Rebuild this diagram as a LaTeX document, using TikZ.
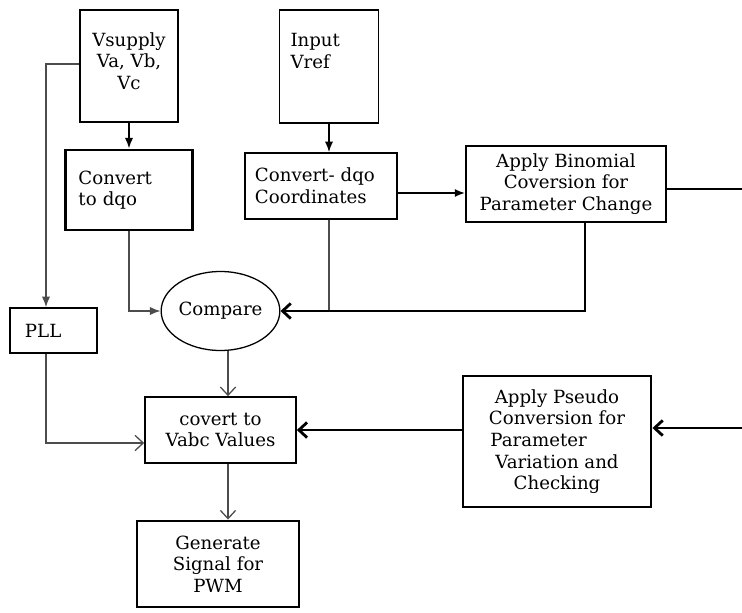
\documentclass[tikz,border=0pt]{standalone}
\usepackage{fontspec}
\setmainfont{DejaVu Serif}
\usetikzlibrary{arrows.meta,shapes.geometric}

\begin{document}
\begin{tikzpicture}[x=0.03cm, y=0.03cm]
      \tikzstyle{every node}+=[inner sep=0pt, font=\fontsize{15.5}{18.5}\selectfont]
      \tikzstyle{blk}=[draw, rectangle, line width=1.4pt]
      \tikzstyle{blkthick}=[draw, rectangle, line width=2.5pt]
      \tikzstyle{wire}=[draw=black!70, line width=1.1pt]
      \tikzstyle{feed}=[draw, line width=1.4pt]
      \tikzstyle{bus}=[draw, line width=2.4pt]
      \tikzstyle{fillhead}=[-{Latex[length=9pt,width=7pt]}]
      \tikzstyle{openhead}=[-{Straight Barb[length=7pt,width=13pt]}]
      \useasboundingbox (0,0) rectangle (742,-613);
      \node [blk, minimum width=2.94cm, minimum height=3.36cm] (vsup) at (129,-66) {\parbox[c][2.9cm][c]{2.6cm}{\centering Vsupply\\Va, Vb,\\Vc\\[0.3cm]}};
      \node [blkthick, minimum height=2.4cm, text width=3.03cm, inner xsep=0.39cm, align=left] (cdqo) at (129,-190) {Convert\\to dqo};
      \node [blk, minimum height=1.35cm, text width=1.71cm, inner xsep=0.45cm, align=left] (pll) at (53.5,-330.5) {PLL};
      \node [blk, minimum width=2.97cm, minimum height=3.39cm] (vref) at (329,-66.5) {\parbox[c][2cm][t]{2.31cm}{Input\\Vref}};
      \node [blk, minimum height=1.98cm, text width=3.96cm, inner xsep=0.3cm, align=left] (cdc) at (321,-186) {Convert- dqo\\Coordinates};
      \node [draw, line width=1.2pt, minimum width=6cm, minimum height=2.28cm, align=center] (binom) at (566,-184) {Apply Binomial\\Coversion for\\Parameter Change};
      \node [draw, ellipse, line width=1.1pt, minimum width=3.51cm, minimum height=2.37cm] (compare) at (220.5,-311) {Compare};
      \node [blk, minimum width=4.53cm, minimum height=1.98cm, align=center] (cvabc) at (220.5,-430) {covert to\\Vabc Values};
      \node [blkthick, minimum width=5.64cm, minimum height=3.93cm, align=center] (pseudo) at (557,-441.5) {Apply Pseudo\\Conversion for\\\makebox[4.2cm][l]{\hspace*{0.1cm}Parameter}\\Variation and\\Checking};
      \node [blkthick, minimum width=4.86cm, minimum height=2.58cm, align=center] (pwm) at (218,-564) {Generate\\Signal for\\PWM};
      \coordinate (pllx) at (46,-64);
      \coordinate (pllo) at (46,-443);
      \coordinate (cb) at (0,-193);
      \coordinate (binx) at (585,0);
      \coordinate (colx) at (228,0);
      \coordinate (rout) at (742,-189);
      \coordinate (rin) at (742,-428);
      \draw [feed, fillhead] (vsup.south) -- (cdqo.north);
      \draw [wire, fillhead] (vsup.west |- pllx) -- (pllx) -- (pllx |- pll.north);
      \draw [wire, fillhead] (cdqo.south) |- (compare.west);
      \draw [feed, fillhead] (vref.south) -- (vref.south |- cdc.north);
      \draw [bus, fillhead] (cdc.east |- cb) -- (binom.west |- cb);
      \draw [wire] (vref.south |- cdc.south) -- (vref.south |- compare.east);
      \draw [bus, openhead] (binom.south -| binx) |- (compare.east);
      \draw [bus] (binom.east |- rout) -- (rout);
      \draw [wire, openhead] (compare.south -| colx) -- (cvabc.north -| colx);
      \draw [wire, openhead] (pll.south -| pllo) -- (pllo) -- (cvabc.west |- pllo);
      \draw [bus, openhead] (rin) -- (pseudo.east |- rin);
      \draw [bus, openhead] (pseudo.west |- cvabc.east) -- (cvabc.east);
      \draw [wire, openhead] (cvabc.south -| colx) -- (pwm.north -| colx);
\end{tikzpicture}
\end{document}
